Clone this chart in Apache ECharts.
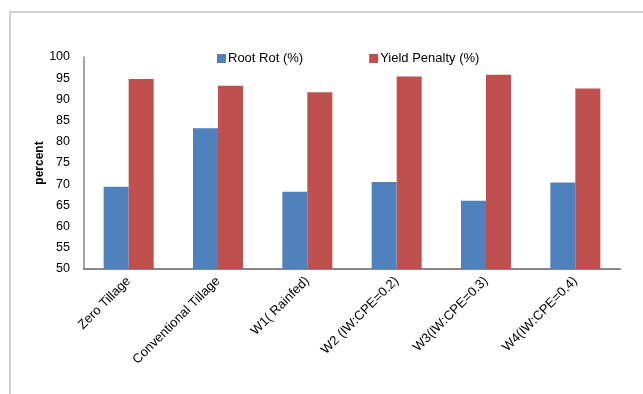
<!DOCTYPE html>
<html>
<head>
<meta charset="utf-8">
<script src="https://cdn.jsdelivr.net/npm/echarts@6/dist/echarts.min.js"></script>
<style>
  html, body { margin: 0; padding: 0; background: #fff; }
  #chart { width: 643px; height: 394px; }
</style>
</head>
<body>
<div id="chart"></div>
<script>
// Treatments along the x axis
const categories = [
  'Zero Tillage',
  'Conventional Tillage',
  'W1( Rainfed)',
  'W2 (IW:CPE=0.2)',
  'W3(IW:CPE=0.3)',
  'W4(IW:CPE=0.4)'
];
// Percent values per treatment
const rootRot = [69.4, 83.2, 68.2, 70.5, 66.1, 70.4];
const yieldPenalty = [94.8, 93.2, 91.7, 95.4, 95.8, 92.6];
// Value axis range
const yMin = 50, yMax = 100, yStep = 5;

const FONT = 'Liberation Sans';
const chart = echarts.init(document.getElementById('chart'), null, { renderer: 'canvas' });

chart.setOption({
  animation: false,
  textStyle: { fontFamily: FONT },
  // outer chart-area frame
  graphic: [{
    type: 'rect',
    shape: { x: 10, y: 12, width: 700, height: 500 },
    style: { fill: 'none', stroke: '#c4c4c4', lineWidth: 1.5 },
    silent: true
  }],
  legend: {
    top: 47,
    left: 212,
    itemWidth: 9,
    itemHeight: 9,
    itemGap: 66,
    icon: 'rect',
    textStyle: { fontFamily: FONT, fontSize: 13, color: '#000', padding: [0, 0, 0, -3] },
    data: ['Root Rot (%)', 'Yield Penalty (%)']
  },
  grid: { left: 84, right: 23, top: 57, bottom: 125, containLabel: false },
  xAxis: {
    type: 'category',
    data: categories,
    axisLine: { lineStyle: { color: '#878787', width: 2 } },
    axisTick: { show: false },
    axisLabel: {
      rotate: 45,
      interval: 0,
      fontFamily: FONT,
      fontSize: 13,
      color: '#000',
      margin: 10
    }
  },
  yAxis: {
    type: 'value',
    min: yMin,
    max: yMax,
    interval: yStep,
    name: 'percent',
    nameLocation: 'middle',
    nameGap: 38,
    nameMoveOverlap: false,
    nameTextStyle: { fontFamily: FONT, fontSize: 12, fontWeight: 'bold', color: '#000' },
    axisLine: { show: true, lineStyle: { color: '#878787', width: 1.5 } },
    axisTick: { show: false },
    splitLine: { show: false },
    axisLabel: { fontFamily: FONT, fontSize: 12.5, color: '#000', margin: 14 }
  },
  series: [
    {
      name: 'Root Rot (%)',
      type: 'bar',
      data: rootRot,
      barGap: '0%',
      barCategoryGap: '44%',
      itemStyle: { color: '#4F81BD' }
    },
    {
      name: 'Yield Penalty (%)',
      type: 'bar',
      data: yieldPenalty,
      barGap: '0%',
      barCategoryGap: '44%',
      itemStyle: { color: '#C0504D' }
    }
  ]
});
</script>
</body>
</html>
